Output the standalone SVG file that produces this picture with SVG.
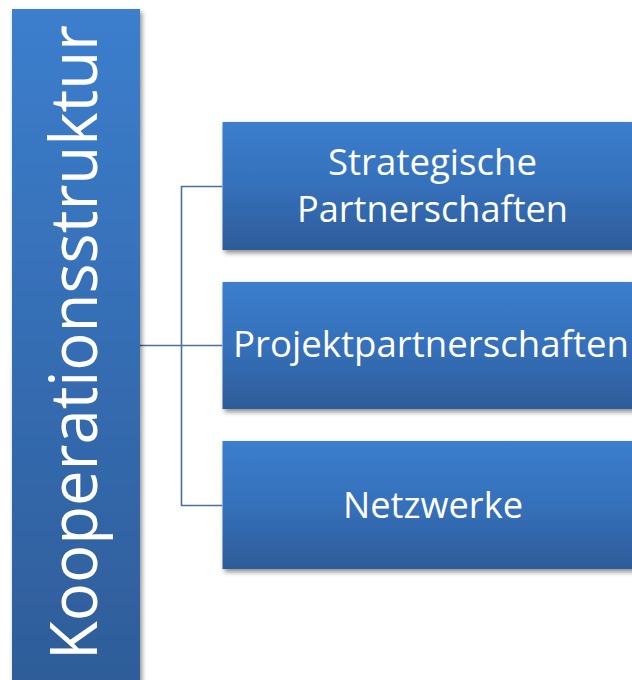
<svg xmlns="http://www.w3.org/2000/svg" width="632" height="680" viewBox="0 0 632 680">
<defs>
<linearGradient id="g" x1="0" y1="0" x2="0" y2="1">
<stop offset="0" stop-color="#3c7ecd"/>
<stop offset="0.5" stop-color="#3570bb"/>
<stop offset="1" stop-color="#2e5c98"/>
</linearGradient>
<linearGradient id="gl" x1="0" y1="0" x2="0" y2="1">
<stop offset="0" stop-color="#3c7ecd"/>
<stop offset="1" stop-color="#2e5c98"/>
</linearGradient>
<filter id="sh" x="-10%" y="-10%" width="130%" height="130%">
<feGaussianBlur in="SourceAlpha" stdDeviation="2.5"/>
<feOffset dx="2" dy="3" result="b"/>
<feComponentTransfer><feFuncA type="linear" slope="0.45"/></feComponentTransfer>
<feMerge><feMergeNode/><feMergeNode in="SourceGraphic"/></feMerge>
</filter>
</defs>
<style>
.box{fill:url(#g);filter:url(#sh)}
.t{fill:#ffffff;font-family:"Open Sans","Noto Sans",sans-serif;font-size:37px;text-anchor:middle}
.c{fill:none;stroke:#4a6fa5;stroke-width:1.6}
</style>
<rect width="632" height="680" fill="#ffffff"/>
<g id="connectors">
<path class="c" d="M140 345.5H222"/>
<path class="c" d="M222 186.5H181.5V505.5H222"/>
</g>
<g id="root">
<rect x="12" y="9" width="128" height="690" fill="url(#gl)" filter="url(#sh)"/>
<text transform="translate(97 660) rotate(-90)" fill="#ffffff" font-family="Open Sans, Noto Sans, sans-serif" font-size="66" textLength="635" lengthAdjust="spacingAndGlyphs">Kooperationsstruktur</text>
</g>
<g id="n1">
<rect class="box" x="222.5" y="122" width="420" height="128"/>
<text class="t" x="432.5" y="175" textLength="209" lengthAdjust="spacingAndGlyphs">Strategische</text>
<text class="t" x="432.5" y="222" textLength="271" lengthAdjust="spacingAndGlyphs">Partnerschaften</text>
</g>
<g id="n2">
<rect class="box" x="222.5" y="282" width="420" height="127"/>
<text class="t" x="431" y="357" textLength="396" lengthAdjust="spacingAndGlyphs">Projektpartnerschaften</text>
</g>
<g id="n3">
<rect class="box" x="222.5" y="441" width="420" height="128"/>
<text class="t" x="433" y="518" textLength="180" lengthAdjust="spacingAndGlyphs">Netzwerke</text>
</g>
</svg>
